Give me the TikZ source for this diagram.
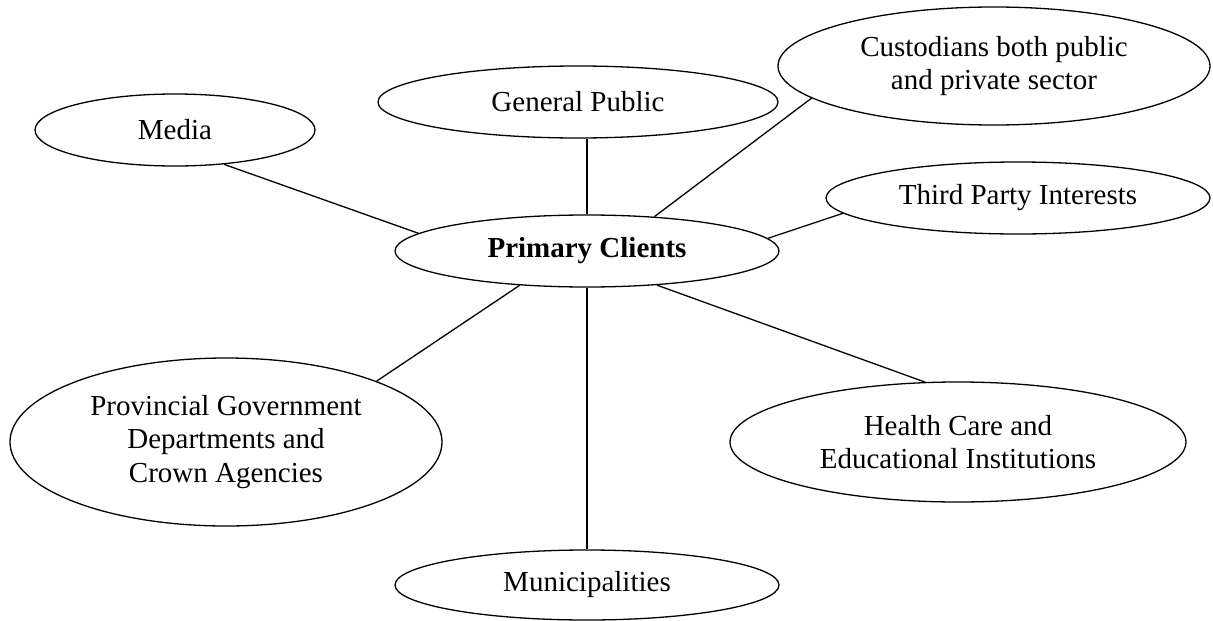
\documentclass[tikz,border=0pt]{standalone}
\usepackage{fontspec}
\setmainfont{Liberation Serif}
\usetikzlibrary{shapes.geometric}
\begin{document}
\begin{tikzpicture}[x=1pt,y=-1pt,
  oval/.style={draw,ellipse,line width=1.3pt,inner sep=0pt,align=center,
    font=\fontsize{29}{33.5}\selectfont},
  link/.style={line width=1.3pt}]
\useasboundingbox (0,0) rectangle (1213,621);
\node[oval,minimum width=280pt,minimum height=72pt] (media) at (175,130) {Media};
\node[oval,minimum width=400pt,minimum height=72pt] (gp) at (578,102) {General Public};
\node[oval,minimum width=432pt,minimum height=118pt] (cust) at (994,66) {Custodians both public\\and private sector};
\node[oval,minimum width=384pt,minimum height=72pt] (tp) at (1018,198) {Third Party Interests};
\node[oval,minimum width=384pt,minimum height=72pt] (prim) at (587,251) {\textbf{Primary Clients}};
\node[oval,minimum width=432pt,minimum height=168pt] (prov) at (226,442) {Provincial Government\\Departments and\\Crown Agencies};
\node[oval,minimum width=456pt,minimum height=120pt] (health) at (958,442) {Health Care and\\Educational Institutions};
\node[oval,minimum width=384pt,minimum height=70pt] (muni) at (587,585) {Municipalities};
\draw[link] (media.-35) -- (prim.174);
\draw[link] (prim.north) -- (prim.north |- gp.south);
\draw[link] (cust.190.8) -- (prim.27);
\draw[link] (tp.185.3) -- (prim.4);
\draw[link] (prim.-153) -- (prov.22.7);
\draw[link] (prim.south) -- (muni.north);
\draw[link] (prim.-26) -- (health.119.5);
\end{tikzpicture}
\end{document}
